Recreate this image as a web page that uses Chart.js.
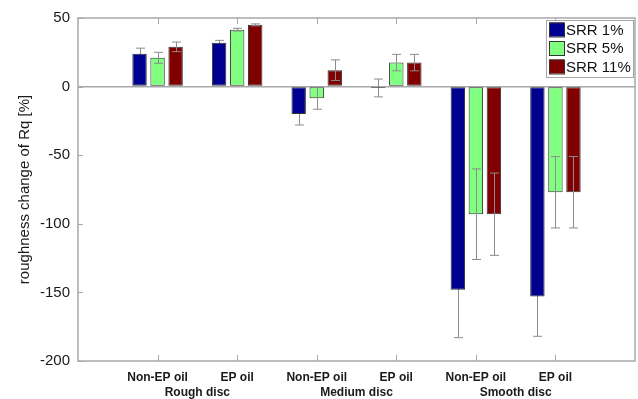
<!DOCTYPE html>
<html lang="en">
<head>
<meta charset="UTF-8">
<title>Roughness change of Rq</title>
<script src="https://cdn.jsdelivr.net/npm/chart.js@4"></script>
<style>
  html, body { margin: 0; padding: 0; background: #fff; }
  .chart-box { width: 638px; height: 399px; position: relative; }
</style>
</head>
<body>
<div class="chart-box"><canvas id="rqChart"></canvas></div>
<script>
// data
const oils = ['Non-EP oil', 'EP oil', 'Non-EP oil', 'EP oil', 'Non-EP oil', 'EP oil'];
const discs = ['Rough disc', 'Medium disc', 'Smooth disc'];
const seriesNames = ['SRR 1%', 'SRR 5%', 'SRR 11%'];
const srr1 = [24, 32, -20, -1, -148, -153];
const srr5 = [21, 41.5, -8.5, 17.5, -93, -77];
const srr11 = [29, 45, 12, 17.5, -93, -77];
const srr1Err = [4, 1.7, 8, 6.5, 35, 29];
const srr5Err = [4, 1, 8, 6, 33, 26];
const srr11Err = [3.5, 0.7, 7.5, 6, 30, 26];
const yTicks = [50, 0, -50, -100, -150, -200];

const FONT = "Arial, 'Liberation Sans', sans-serif";
const AXIS_GREY = '#a8a8a8';
const colors = ['#000090', '#80ff80', '#800000'];

// one empty slot on each side, like the original axis running 0..7
const labels = [''].concat(oils, ['']);
const pad = arr => [null].concat(arr, [null]);
const values = [srr1, srr5, srr11];
const errors = [srr1Err, srr5Err, srr11Err];

function drawErrors(chart, d) {
  const ctx = chart.ctx;
  const y = chart.scales.y;
  const meta = chart.getDatasetMeta(d);
  ctx.save();
  ctx.strokeStyle = '#8c8c8c';
  ctx.lineWidth = 1;
  values[d].forEach((v, i) => {
    const bar = meta.data[i + 1];
    const e = errors[d][i];
    const x = Math.round(bar.x) + 0.5;
    const y1 = y.getPixelForValue(v + e);
    const y2 = y.getPixelForValue(v - e);
    ctx.beginPath();
    ctx.moveTo(x, y1); ctx.lineTo(x, y2);
    ctx.moveTo(x - 4.5, y1); ctx.lineTo(x + 4.5, y1);
    ctx.moveTo(x - 4.5, y2); ctx.lineTo(x + 4.5, y2);
    ctx.stroke();
  });
  ctx.restore();
}

const extras = {
  id: 'extras',
  // the SRR 1% whiskers sit behind their dark bars in the original
  beforeDatasetsDraw(chart) { drawErrors(chart, 0); },
  afterDatasetsDraw(chart) { drawErrors(chart, 1); drawErrors(chart, 2); },
  afterDraw(chart) {
    const ctx = chart.ctx;
    const a = chart.chartArea;
    const xs = chart.scales.x;
    const ys = chart.scales.y;
    ctx.save();
    // frame
    ctx.strokeStyle = AXIS_GREY;
    ctx.lineWidth = 1.5;
    ctx.strokeRect(a.left, a.top, a.right - a.left, a.bottom - a.top);
    // inward ticks
    ctx.lineWidth = 1;
    ctx.beginPath();
    for (let i = 1; i <= oils.length; i++) {
      const x = Math.round(xs.getPixelForTick(i)) + 0.5;
      ctx.moveTo(x, a.bottom); ctx.lineTo(x, a.bottom - 6);
      ctx.moveTo(x, a.top); ctx.lineTo(x, a.top + 6);
    }
    yTicks.forEach(v => {
      const yy = Math.round(ys.getPixelForValue(v)) + 0.5;
      ctx.moveTo(a.left, yy); ctx.lineTo(a.left + 5, yy);
    });
    ctx.stroke();
    // disc group labels
    ctx.fillStyle = '#1a1a1a';
    ctx.font = 'bold 12px ' + FONT;
    ctx.textAlign = 'center';
    ctx.textBaseline = 'middle';
    discs.forEach((name, k) => {
      const x = (xs.getPixelForTick(2 * k + 1) + xs.getPixelForTick(2 * k + 2)) / 2;
      ctx.fillText(name, x, 393);
    });
    // legend
    const lx = 546, ly = 20, lw = 87, lh = 57;
    ctx.fillStyle = '#fff';
    ctx.fillRect(lx, ly, lw, lh);
    ctx.strokeStyle = AXIS_GREY;
    ctx.strokeRect(lx + 0.5, ly + 0.5, lw, lh);
    ctx.font = '15px ' + FONT;
    ctx.textAlign = 'left';
    seriesNames.forEach((name, i) => {
      const cy = ly + 9.5 + i * 18.5;
      ctx.fillStyle = colors[i];
      ctx.fillRect(lx + 3, cy - 7, 15, 14);
      ctx.strokeStyle = '#333';
      ctx.strokeRect(lx + 3.5, cy - 6.5, 15, 14);
      ctx.fillStyle = '#111';
      ctx.fillText(name, lx + 20, cy + 1);
    });
    ctx.restore();
  }
};

new Chart(document.getElementById('rqChart'), {
  type: 'bar',
  data: {
    labels: labels,
    datasets: seriesNames.map((name, i) => ({
      label: name,
      data: pad(values[i]),
      backgroundColor: colors[i],
      borderColor: '#333',
      borderWidth: 1,
      borderSkipped: false,
      categoryPercentage: 0.68,
      barPercentage: 0.8
    }))
  },
  options: {
    responsive: true,
    maintainAspectRatio: false,
    animation: false,
    layout: { padding: { top: 18, right: 3, left: 0, bottom: 0 } },
    plugins: { legend: { display: false }, tooltip: { enabled: false } },
    scales: {
      x: {
        offset: false,
        grid: { display: false, drawTicks: false },
        border: { display: false },
        ticks: { autoSkip: false, maxRotation: 0, padding: 9, color: '#1a1a1a',
                 font: { family: FONT, size: 12, weight: 'bold' } },
        afterFit: s => { s.height = 38; s.paddingLeft = 0; s.paddingRight = 0; }
      },
      y: {
        min: -200,
        max: 50,
        afterBuildTicks: s => { s.ticks = yTicks.map(v => ({ value: v })); },
        grid: { drawTicks: false, lineWidth: 1.5,
                color: c => c.tick && c.tick.value === 0 ? AXIS_GREY : 'rgba(0,0,0,0)' },
        border: { display: false },
        ticks: { padding: 8, color: '#1a1a1a', font: { family: FONT, size: 15 } },
        title: { display: true, text: 'roughness change of Rq [%]', color: '#1a1a1a',
                 padding: { top: 16, bottom: 0 }, font: { family: FONT, size: 15 } },
        afterFit: s => { s.width = 78; s.paddingTop = 0; s.paddingBottom = 0; }
      }
    }
  },
  plugins: [extras]
});
</script>
</body>
</html>
